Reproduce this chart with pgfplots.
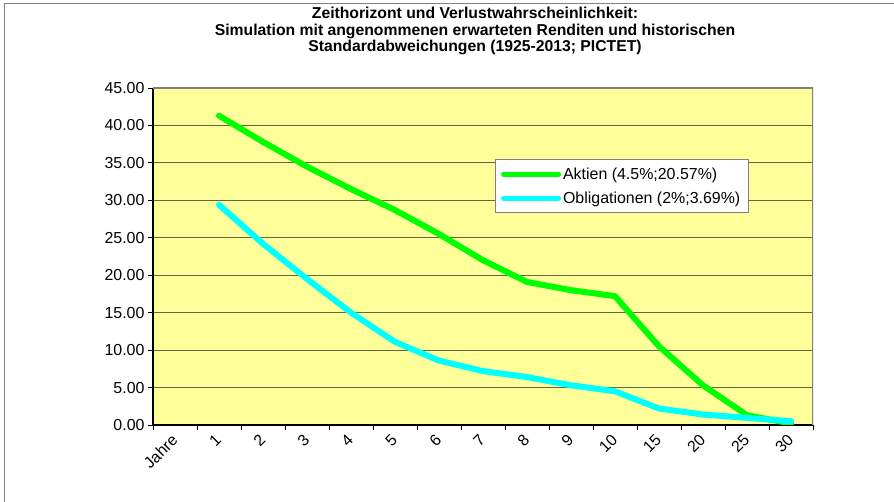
\documentclass[border=0pt]{standalone}
\usepackage{pgfplots}
\pgfplotsset{compat=1.18}
\usepackage{fontspec}
\setmainfont{Liberation Sans}
\definecolor{plotbg}{RGB}{255,255,153}
\definecolor{aktien}{RGB}{0,255,0}
\definecolor{oblig}{RGB}{0,255,255}
\definecolor{gridc}{RGB}{100,100,70}
\definecolor{framegray}{RGB}{128,128,128}

\begin{document}
\begin{tikzpicture}[x=1bp,y=1bp]
\useasboundingbox (0,0) rectangle (894,502);
\fill[white] (0,0) rectangle (894,502);
\draw[framegray, line width=1bp] (4,-10) -- (4,498) -- (904,498);
\node[font=\fontsize{15.8}{16.8}\selectfont\bfseries, align=center, inner sep=0pt] at (475,471)
  {Zeithorizont und Verlustwahrscheinlichkeit:\\Simulation mit angenommenen erwarteten Renditen und historischen\\Standardabweichungen (1925-2013; PICTET)};
\begin{axis}[
  at={(153bp,77bp)}, anchor=south west, scale only axis,
  width=660bp, height=337bp,
  xmin=-0.5, xmax=14.5, ymin=0, ymax=45,
  axis background/.style={fill=plotbg},
  axis x line*=bottom, axis y line*=left,
  axis line style={black, line width=1.5bp, -},
  ytick={0,5,...,45},
  ymajorgrids, major grid style={gridc, line width=1bp},
  tick align=outside, major tick length=5bp,
  tick style={black, line width=0.8bp},
  yticklabel style={/pgf/number format/.cd, fixed, fixed zerofill, precision=2},
  /pgf/number format/assume math mode=true,
  ticklabel style={font=\fontsize{16}{18}\selectfont},
  xtick={-0.5,0.5,...,14.5}, xticklabels={{}},
  extra x ticks={0,1,...,14},
  extra x tick labels={Jahre,1,2,3,4,5,6,7,8,9,10,15,20,25,30},
  extra x tick style={major tick length=0pt, xticklabel style={rotate=45, anchor=north east, inner sep=1bp, xshift=-8bp, yshift=-1.5bp}},
  legend style={at={(0.518,0.788)}, anchor=north west, draw=framegray, fill=white,
    font=\fontsize{16}{18}\selectfont, row sep=7bp, inner xsep=6bp, inner ysep=6bp},
  legend cell align=left,
  legend image code/.code={\draw[#1, line width=5bp] (0bp,0bp) -- (55bp,0bp);},
]
\addplot[aktien, line width=6bp, line join=round, line cap=round] coordinates {
 (1,41.3) (2,37.8) (3,34.5) (4,31.5) (5,28.7) (6,25.5) (7,22.0) (8,19.1) (9,18.0) (10,17.2) (11,10.5) (12,5.3) (13,1.3) (14,0.2)};
\addlegendentry{Aktien (4.5\%;20.57\%)}
\addplot[oblig, line width=6bp, line join=round, line cap=round] coordinates {
 (1,29.4) (2,24.2) (3,19.5) (4,15.0) (5,11.1) (6,8.6) (7,7.2) (8,6.4) (9,5.3) (10,4.5) (11,2.2) (12,1.4) (13,0.95) (14,0.5)};
\addlegendentry{Obligationen (2\%;3.69\%)}
\draw[framegray, line width=2.5bp] (rel axis cs:0,1) -- (rel axis cs:1,1) -- (rel axis cs:1,0);
\end{axis}
\end{tikzpicture}
\end{document}
